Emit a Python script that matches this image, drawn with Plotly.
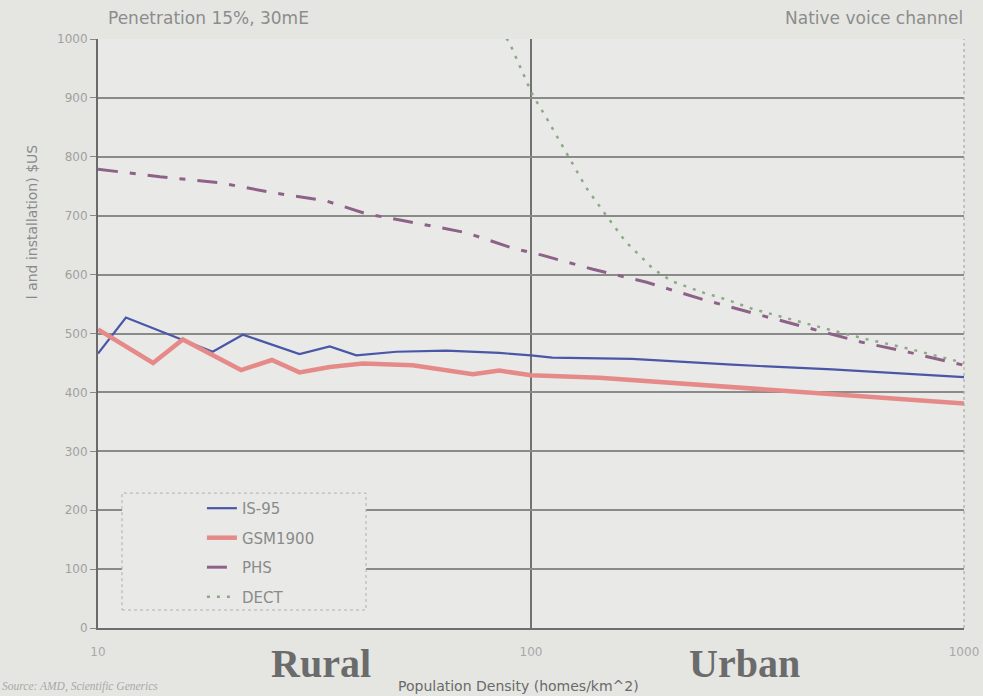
import plotly.graph_objects as go

# ---- data ----
is95_x = [10, 11.6, 18.4, 21.6, 29.2, 34.3, 39.5, 48.9, 63.7, 84.5, 100, 112, 171, 291, 496, 1000]
is95_y = [466, 527, 469, 498, 465, 478, 463, 469, 471, 467, 463, 459, 457, 447, 439, 426]

gsm_x = [10, 13.4, 15.7, 18.4, 21.4, 25.2, 29.2, 34.3, 40.9, 53.3, 73.4, 84.5, 100, 144, 245, 496, 1000]
gsm_y = [507, 450, 490, 463, 438, 455, 434, 443, 449, 446, 431, 437, 429, 425, 413, 397, 381]

phs_x = [10, 13.9, 19.1, 25.3, 33.7, 41.7, 50.5, 71.0, 90.6, 106, 139, 185, 209, 249, 324, 432, 582, 747, 1000]
phs_y = [779, 766, 756, 739, 725, 703, 692, 671, 645, 633, 609, 587, 575, 558, 535, 510, 485, 468, 446]

dect_x = [85, 89, 101, 108.4, 118.7, 134, 149.3, 165.8, 181.3, 191.3, 211, 251, 282, 324, 432, 582, 747, 1000]
dect_y = [1015, 995, 904, 867, 816, 748, 700, 655, 627, 610, 589, 569, 558, 542, 517, 492, 474, 450]

y_ticks = [0, 100, 200, 300, 400, 500, 600, 700, 800, 900, 1000]
x_ticks = [10, 100, 1000]
x_tick_labels = ["10", "100", "1000"]

FONT = "DejaVu Sans"

fig = go.Figure()
fig.add_trace(go.Scatter(x=is95_x, y=is95_y, mode="lines", name="IS-95", legendgroup="a",
                         line=dict(color="#4a56a8", width=2.2)))
fig.add_trace(go.Scatter(x=gsm_x, y=gsm_y, mode="lines", name="GSM1900", legendgroup="b",
                         line=dict(color="#e58a88", width=4.5)))
fig.add_trace(go.Scatter(x=phs_x, y=phs_y, mode="lines", name="PHS", legendgroup="c",
                         line=dict(color="#8e6288", width=3, dash="20px,12px,6px,12px")))
fig.add_trace(go.Scatter(x=dect_x, y=dect_y, mode="lines", name="DECT", legendgroup="d",
                         line=dict(color="#8caa86", width=2.5, dash="3px,7px")))

fig.update_layout(
    width=983, height=696,
    margin=dict(l=98, r=19, t=39, b=68, autoexpand=False),
    paper_bgcolor="#e5e6e2",
    plot_bgcolor="#e9eae7",
    font=dict(family=FONT, color="#8a8a8a"),
    showlegend=True,
    legend=dict(x=0.12, y=0.231, xanchor="left", yanchor="top",
                bgcolor="rgba(0,0,0,0)", borderwidth=0,
                font=dict(family=FONT, size=15, color="#8a8a8a"),
                tracegroupgap=7),
    xaxis=dict(type="log", range=[1, 3], tickvals=x_ticks, ticktext=x_tick_labels,
               automargin=False,
               showgrid=True, gridcolor="#727272", gridwidth=1.5,
               showline=True, linecolor="#6e6e6e", linewidth=2, mirror=False,
               ticks="", ticklabelstandoff=12,
               tickfont=dict(family=FONT, size=12, color="#a8a8a8"),
               zeroline=False),
    yaxis=dict(range=[0, 1000], tickvals=y_ticks,
               automargin=False,
               showgrid=True, gridcolor="#8a8a8a", gridwidth=1.6,
               showline=True, linecolor="#6a6a6a", linewidth=2,
               ticks="outside", ticklen=6, tickcolor="#8a8a8a",
               tickfont=dict(family=FONT, size=12, color="#a0a0a0"),
               zeroline=False),
    shapes=[
        dict(type="rect", xref="paper", yref="paper", x0=0.0277, x1=0.3095, y0=0.0306, y1=0.229,
             line=dict(color="#b0b0b0", width=1, dash="dot"), fillcolor="#e9eae7", layer="above"),
        dict(type="line", xref="paper", yref="paper", x0=1, x1=1, y0=0, y1=1,
             line=dict(color="#a8a8a8", width=1.2, dash="dot"), layer="above"),
    ],
    annotations=[
        dict(text="Penetration 15%, 30mE", xref="paper", yref="paper", x=0.0092, y=1.035,
             xanchor="left", yanchor="middle", showarrow=False,
             font=dict(family=FONT, size=17, color="#8c8c8c")),
        dict(text="Native voice channel", xref="paper", yref="paper", x=1.0012, y=1.035,
             xanchor="right", yanchor="middle", showarrow=False,
             font=dict(family=FONT, size=17, color="#8c8c8c")),
        dict(text="<b>Rural</b>", xref="paper", yref="paper", x=0.2575, y=-0.061,
             xanchor="center", yanchor="middle", showarrow=False,
             font=dict(family="Liberation Serif", size=40, color="#6b6b6b")),
        dict(text="<b>Urban</b>", xref="paper", yref="paper", x=0.746, y=-0.061,
             xanchor="center", yanchor="middle", showarrow=False,
             font=dict(family="Liberation Serif", size=40, color="#6b6b6b")),
        dict(text="Population Density (homes/km^2)", xref="paper", yref="paper", x=0.486, y=-0.0985,
             xanchor="center", yanchor="middle", showarrow=False,
             font=dict(family=FONT, size=14, color="#6a6a6a")),
        dict(text="<i>Source: AMD, Scientific Generics</i>", xref="paper", yref="paper", x=-0.113, y=-0.0985,
             xanchor="left", yanchor="middle", showarrow=False,
             font=dict(family="Liberation Serif", size=11.5, color="#a8a8a8")),
        dict(text="l and installation) $US", xref="paper", yref="paper", x=-0.0762, y=0.689,
             xanchor="center", yanchor="middle", showarrow=False, textangle=-90,
             font=dict(family=FONT, size=14, color="#8a8a8a")),
    ],
)

fig.write_html("out.html", config={"displayModeBar": False},
               post_script="document.body.style.margin='0px';document.body.style.overflow='hidden';")
